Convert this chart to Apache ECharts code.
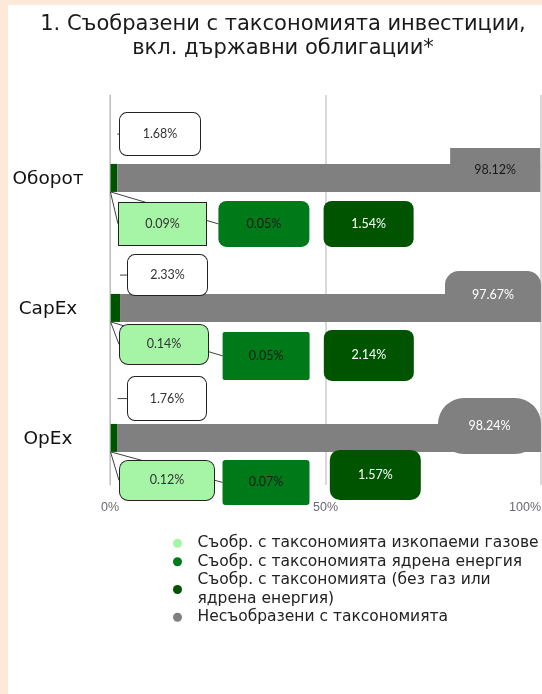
<!DOCTYPE html>
<html>
<head>
<meta charset="utf-8">
<title>Съобразени с таксономията инвестиции</title>
<script src="https://cdn.jsdelivr.net/npm/echarts@6/dist/echarts.min.js"></script>
<style>
html, body { margin: 0; padding: 0; background: #fde9d9; overflow: hidden; }
#chart { position: absolute; left: 8px; top: 5px; width: 550px; height: 689px; background: #fff; }
</style>
</head>
<body>
<div id="chart"></div>
<script>
// data
var categories = ['Оборот', 'CapEx', 'OpEx'];
var gasValues = [0.09, 0.14, 0.12];
var nuclearValues = [0.05, 0.05, 0.07];
var otherAligned = [1.54, 2.14, 1.57];
var notAligned = [98.12, 97.67, 98.24];
var alignedTotal = [1.68, 2.33, 1.76];
var xTicks = [0, 50, 100];

var seriesNames = [
  'Съобр. с таксономията изкопаеми газове',
  'Съобр. с таксономията ядрена енергия',
  'Съобр. с таксономията (без газ или ядрена енергия)',
  'Несъобразени с таксономията'
];

// callout boxes: [dx, dy, width, height, radius] per category
var gasBoxes = [[52.5, 46, 87, 42, 0], [54, 36.5, 88, 39, 8], [57, 42.5, 94, 39, 8]];
var nucBoxes = [[153.5, 46, 91, 46, 8], [155.5, 48, 87, 48, 2], [155.5, 44.5, 87, 45, 3]];
var othBoxes = [[258, 46, 90, 46, 8], [258, 47.5, 90, 51, 8], [264.5, 37, 91, 50, 10]];
var notBoxes = [[-45, -8, 90, 44, 0], [-48, -13, 96, 48, [14, 14, 0, 0]], [-51.5, -12, 103, 56, 26]];
var totBoxes = [[50, -8, 80, 42, 7], [57.5, 3, 79, 40, 7], [57, -3.5, 78, 43, 7]];

var chart = echarts.init(document.getElementById('chart'));

function items(values, boxes) {
  return values.map(function (v, i) {
    var b = boxes[i];
    return { value: v, label: { width: b[2], height: b[3], lineHeight: b[3], borderRadius: b[4] } };
  });
}

function layout(boxes, fromRight) {
  return function (p) {
    var b = boxes[p.dataIndex];
    var x0 = fromRight ? p.rect.x + p.rect.width : p.rect.x;
    return { x: x0 + b[0], y: p.rect.y + p.rect.height / 2 + b[1], align: 'center', verticalAlign: 'middle' };
  };
}

function pctLabel(bg, border, color) {
  return {
    show: true,
    position: 'inside',
    formatter: function (p) { return p.value.toFixed(2) + '%'; },
    fontFamily: 'Lato',
    fontSize: 12.5,
    color: color,
    backgroundColor: bg,
    borderColor: border,
    borderWidth: border == 'transparent' ? 0 : 1,
    padding: 0,
    align: 'center',
    verticalAlign: 'middle'
  };
}

var leader = { show: true, lineStyle: { color: '#404040', width: 1 } };

chart.setOption({
  animation: false,
  title: {
    text: '1. Съобразени с таксономията инвестиции,\nвкл. държавни облигации*',
    left: 'center',
    top: 3,
    textStyle: { fontFamily: 'DejaVu Sans', fontSize: 21, fontWeight: 'normal', lineHeight: 24, color: '#1a1a1a' }
  },
  legend: {
    data: seriesNames,
    orient: 'vertical',
    left: 165,
    top: 529,
    padding: 0,
    itemGap: 0,
    itemWidth: 30,
    itemHeight: 9,
    icon: 'circle',
    formatter: function (name) {
      return name == seriesNames[2] ? 'Съобр. с таксономията (без газ или\nядрена енергия)' : name;
    },
    textStyle: { fontFamily: 'DejaVu Sans', fontSize: 15.5, color: '#222', lineHeight: 18.5 }
  },
  grid: { left: 102, right: 17, top: 90, bottom: 209 },
  xAxis: {
    type: 'value',
    min: xTicks[0],
    max: xTicks[xTicks.length - 1],
    interval: xTicks[1] - xTicks[0],
    axisLine: { show: false },
    axisTick: { show: false },
    splitLine: { lineStyle: { color: '#d9d9d9', width: 2 } },
    axisLabel: { formatter: '{value}%', fontSize: 12.5, color: '#6a6a72', margin: 16, alignMaxLabel: 'right' }
  },
  yAxis: {
    type: 'category',
    data: categories,
    inverse: true,
    axisLine: { lineStyle: { color: '#bfbfbf', width: 1 } },
    axisTick: { show: false },
    axisLabel: {
      fontFamily: 'DejaVu Sans', fontSize: 18.5, color: '#111',
      align: 'center', margin: 62, verticalAlign: 'top', lineHeight: 38
    }
  },
  series: [
    {
      name: 'Общо съобразени',
      type: 'bar',
      barWidth: 28,
      barGap: '28%',
      itemStyle: { color: 'transparent' },
      data: items(alignedTotal, totBoxes),
      label: pctLabel('#fff', '#222', '#333'),
      labelLine: leader,
      labelLayout: layout(totBoxes, false)
    },
    {
      name: seriesNames[0],
      type: 'bar',
      stack: 'total',
      barWidth: 28,
      itemStyle: { color: '#a6f5a6' },
      data: items(gasValues, gasBoxes),
      label: pctLabel('#a6f5a6', '#222', '#333'),
      labelLine: leader,
      labelLayout: layout(gasBoxes, false)
    },
    {
      name: seriesNames[1],
      type: 'bar',
      stack: 'total',
      barWidth: 28,
      itemStyle: { color: '#007a18' },
      data: items(nuclearValues, nucBoxes),
      label: pctLabel('#007a18', 'transparent', '#1a1a1a'),
      labelLine: leader,
      labelLayout: layout(nucBoxes, false)
    },
    {
      name: seriesNames[2],
      type: 'bar',
      stack: 'total',
      barWidth: 28,
      itemStyle: { color: '#005400' },
      data: items(otherAligned, othBoxes),
      label: pctLabel('#005400', 'transparent', '#fff'),
      labelLine: { show: false },
      labelLayout: layout(othBoxes, false)
    },
    {
      name: seriesNames[3],
      type: 'bar',
      stack: 'total',
      barWidth: 28,
      itemStyle: { color: '#808080' },
      data: items(notAligned, notBoxes).map(function (d, i) {
        d.label.color = i == 0 ? '#1a1a1a' : '#fff';
        return d;
      }),
      label: pctLabel('#808080', 'transparent', '#fff'),
      labelLine: { show: false },
      labelLayout: layout(notBoxes, true)
    }
  ]
});
</script>
</body>
</html>
